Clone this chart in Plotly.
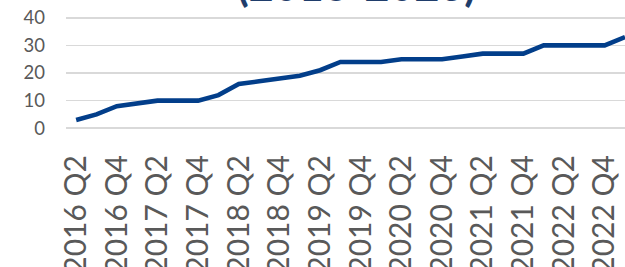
import plotly.graph_objects as go

quarters = [
    "2016 Q2", "2016 Q3", "2016 Q4",
    "2017 Q1", "2017 Q2", "2017 Q3", "2017 Q4",
    "2018 Q1", "2018 Q2", "2018 Q3", "2018 Q4",
    "2019 Q1", "2019 Q2", "2019 Q3", "2019 Q4",
    "2020 Q1", "2020 Q2", "2020 Q3", "2020 Q4",
    "2021 Q1", "2021 Q2", "2021 Q3", "2021 Q4",
    "2022 Q1", "2022 Q2", "2022 Q3", "2022 Q4",
    "2023 Q1",
]
values = [3, 5, 8, 9, 10, 10, 10, 12, 16, 17, 18, 19, 21, 24, 24, 24,
          25, 25, 25, 26, 27, 27, 27, 30, 30, 30, 30, 33]
tick_labels = quarters[0:27:2]
y_ticks = [0, 10, 20, 30, 40]
title_text = "(2016-2023)"

fig = go.Figure()
fig.add_trace(go.Scatter(
    x=quarters, y=values, mode="lines",
    line=dict(color="#023e8a", width=4.6),
    hoverinfo="skip",
))

fig.update_layout(
    width=625, height=267,
    margin=dict(l=66, r=0, t=15, b=136, autoexpand=False),
    paper_bgcolor="white", plot_bgcolor="white",
    showlegend=False,
    font=dict(family="Lato", color="#595959"),
    annotations=[dict(
        text=title_text, xref="paper", yref="paper",
        x=0.519, y=1.0, xanchor="center", yanchor="bottom", yshift=3,
        showarrow=False,
        font=dict(family="Lato", size=43, color="#1f3d6b", weight="bold"),
    )],
)
fig.update_xaxes(
    type="category", categoryorder="array", categoryarray=quarters,
    range=[-0.5, 27], tickvals=tick_labels, ticktext=tick_labels,
    tickangle=-90, tickfont=dict(size=30, color="#595959", family="Lato"),
    showgrid=False, zeroline=False, showline=False, ticks="",
    ticklabelstandoff=17, automargin=False,
)
fig.update_yaxes(
    range=[-1, 41], tickvals=y_ticks,
    tickfont=dict(size=18.5, color="#595959", family="Lato"),
    showgrid=True, gridcolor="#d9d9d9", gridwidth=1.5,
    zeroline=False, showline=False, ticks="",
    ticklabelstandoff=20, automargin=False,
)

fig.write_html(
    "out.html",
    config={"displayModeBar": False, "staticPlot": True},
    post_script="document.body.style.margin='0';document.body.style.overflow='hidden';",
)
